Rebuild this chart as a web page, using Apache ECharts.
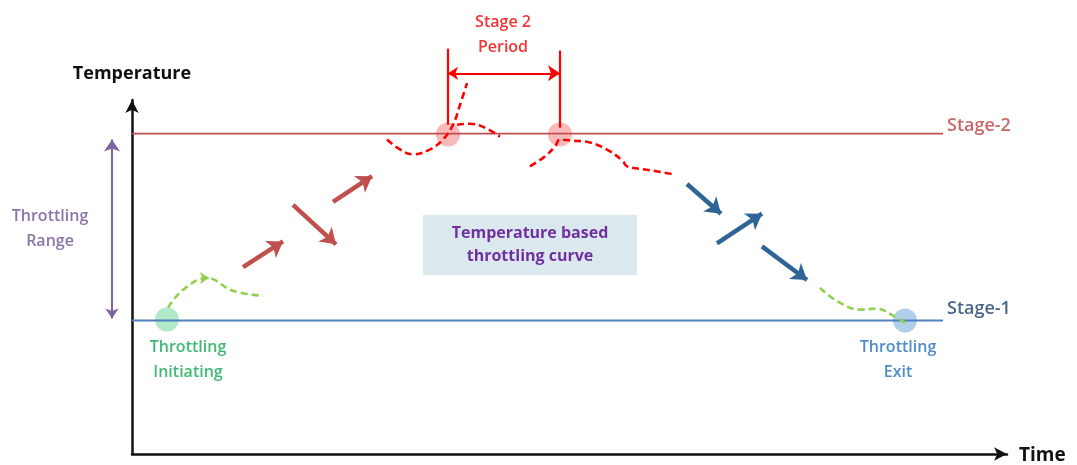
<!DOCTYPE html>
<html>
<head>
<meta charset="utf-8">
<script src="https://cdn.jsdelivr.net/npm/echarts@6/dist/echarts.min.js"></script>
<style>
html,body{margin:0;padding:0;background:#fff;}
#chart{width:1077px;height:465px;}
</style>
</head>
<body>
<div id="chart"></div>
<script>
// Axis extents (time units, temperature units)
const timeMax = 875;
const tempMax = 358;

// Stage threshold levels
const stage1Temp = 135;
const stage2Temp = 324;
const stageLineEnd = 811;

// Threshold lines
const stage2Line = [[0, stage2Temp], [stageLineEnd, stage2Temp]];
const stage1Line = [[0, stage1Temp], [stageLineEnd, stage1Temp]];

// Green dashed curves (entry / exit)
const greenEntryCurve = [[36, 148], [51, 166], [75, 178], [101, 165], [131, 160]];
const greenExitCurve = [[688, 168], [706, 154], [728, 146], [745, 147], [761, 140], [776, 131]];

// Red dashed curves around stage 2
const redCurveA = [[255, 318], [268, 308], [281, 303], [298, 308], [311, 318], [321, 333], [328, 353], [335, 375]];
const redCurveB = [[325, 333], [338, 334], [353, 330], [368, 321]];
const redCurveC = [[398, 291], [413, 301], [423, 311], [428, 318], [438, 317], [458, 315], [478, 306], [491, 296], [495, 291], [518, 287], [541, 283]];

// Event points
const initPoint = [35, 136];
const exitPoint = [773, 135];
const stage2Points = [[316, 323], [428, 323]];

// Arrow segments
const redArrows = [
  [[111, 189], [151, 215]],
  [[161, 252], [204, 212]],
  [[201, 255], [240, 281]]
];
const blueArrows = [
  [[555, 273], [589, 243]],
  [[585, 213], [630, 243]],
  [[630, 210], [675, 176]]
];
const greenChevron = [[70, 178], [77, 178]];
const rangeArrow = [[-20, 137], [-20, 318]];
const periodLeft = [[316, 410], [316, 333]];
const periodRight = [[428, 408], [428, 330]];
const periodSpan = [[316, 385], [428, 385]];

// Box (time range, temperature range)
const boxTime = [291, 505];
const boxTemp = [181, 242];

// Text annotations
const labelTexts = [
  {text: 'Stage-2', pos: [815, 332], color: '#b8423f', align: 'left', size: 18},
  {text: 'Stage-1', pos: [815, 147], color: '#1a3f6e', align: 'left', size: 18},
  {text: 'Stage 2\nPeriod', pos: [371, 424], color: '#f00000', align: 'center', size: 16},
  {text: 'Throttling\nRange', pos: [-82, 228], color: '#6e5192', align: 'center', size: 16},
  {text: 'Throttling\nInitiating', pos: [56, 95], color: '#10a850', align: 'center', size: 16},
  {text: 'Throttling\nExit', pos: [766, 95], color: '#2270b8', align: 'center', size: 16}
];
const boxText = 'Temperature based\nthrottling curve';

const FONT = '"Open Sans", "Noto Sans", sans-serif';

function dashed(data, color) {
  return {
    type: 'line', data: data, smooth: 0.4, symbol: 'none', clip: false, silent: true,
    lineStyle: {color: color, width: 2.6, type: [7, 4]}
  };
}
function arrows(segs, color, width, size, sym) {
  return {
    type: 'lines', coordinateSystem: 'cartesian2d', clip: false, silent: true,
    symbol: sym || ['none', 'arrow'], symbolSize: size,
    lineStyle: {color: color, width: width, opacity: 1, curveness: 0},
    data: segs.map(s => ({coords: s}))
  };
}

const chart = echarts.init(document.getElementById('chart'), null, {renderer: 'canvas'});

const series = [
  {
    type: 'line', data: stage2Line, symbol: 'none', clip: false, silent: true,
    lineStyle: {color: '#c0504d', width: 1.8},
    markArea: {
      silent: true,
      itemStyle: {color: '#dbe9ef'},
      label: {
        show: true, position: 'inside', color: '#7030a0', fontFamily: FONT,
        fontSize: 16, fontWeight: 'bold', lineHeight: 23, align: 'center'
      },
      data: [[{name: boxText, coord: [boxTime[0], boxTemp[0]]}, {coord: [boxTime[1], boxTemp[1]]}]]
    }
  },
  {
    type: 'line', data: stage1Line, symbol: 'none', clip: false, silent: true,
    lineStyle: {color: '#4f81bd', width: 1.8}
  },
  {
    type: 'scatter', data: [initPoint], symbolSize: 24, clip: false, silent: true,
    itemStyle: {color: 'rgba(60,200,120,0.5)'}, z: 1
  },
  {
    type: 'scatter', data: [exitPoint], symbolSize: 24, clip: false, silent: true,
    itemStyle: {color: 'rgba(91,155,213,0.6)'}, z: 1
  },
  {
    type: 'scatter', data: stage2Points, symbolSize: 24, clip: false, silent: true,
    itemStyle: {color: 'rgba(245,110,110,0.6)'}, z: 1
  },
  dashed(greenEntryCurve, '#92d050'),
  dashed(greenExitCurve, '#92d050'),
  dashed(redCurveA, '#ff0000'),
  dashed(redCurveB, '#ff0000'),
  dashed(redCurveC, '#ff0000'),
  arrows(redArrows, '#c0504d', 4.5, [14, 15]),
  arrows(blueArrows, '#2f6496', 4.5, [14, 15]),
  arrows([greenChevron], '#92d050', 1.5, [8, 9]),
  arrows([rangeArrow], '#8064a2', 2, [10, 12], ['arrow', 'arrow']),
  arrows([periodLeft, periodRight], '#ff0000', 2.2, 1, ['none', 'none']),
  arrows([periodSpan], '#ff0000', 2.2, [10, 12], ['arrow', 'arrow']),
  {
    type: 'scatter', clip: false, silent: true, symbolSize: 1,
    itemStyle: {color: 'rgba(0,0,0,0)'},
    data: labelTexts.map(l => ({
      value: l.pos,
      label: {
        show: true, formatter: l.text, position: 'inside', color: l.color,
        align: l.align, verticalAlign: 'middle', fontSize: l.size, lineHeight: 25,
        fontFamily: FONT, fontWeight: 600
      }
    })),
    z: 10
  }
];

chart.setOption({
  animation: false,
  backgroundColor: '#ffffff',
  grid: {left: 132, right: 70, top: 100, bottom: 7, containLabel: false},
  xAxis: {
    type: 'value', min: 0, max: timeMax,
    name: 'Time', nameLocation: 'end', nameGap: 12,
    nameTextStyle: {color: '#111', fontSize: 19, fontWeight: 'bold', fontFamily: FONT, verticalAlign: 'top', padding: [-8, 0, 0, 0]},
    axisLine: {show: true, onZero: false, symbol: ['none', 'arrow'], symbolSize: [10, 13], lineStyle: {color: '#111', width: 2.5}},
    axisTick: {show: false}, axisLabel: {show: false}, splitLine: {show: false}
  },
  yAxis: {
    type: 'value', min: 0, max: tempMax,
    name: 'Temperature', nameLocation: 'end', nameGap: 17,
    nameTextStyle: {color: '#111', fontSize: 18, fontWeight: 'bold', fontFamily: FONT, align: 'center'},
    axisLine: {show: true, onZero: false, symbol: ['none', 'arrow'], symbolSize: [10, 13], lineStyle: {color: '#111', width: 2.5}},
    axisTick: {show: false}, axisLabel: {show: false}, splitLine: {show: false}
  },
  series: series
});
</script>
</body>
</html>
